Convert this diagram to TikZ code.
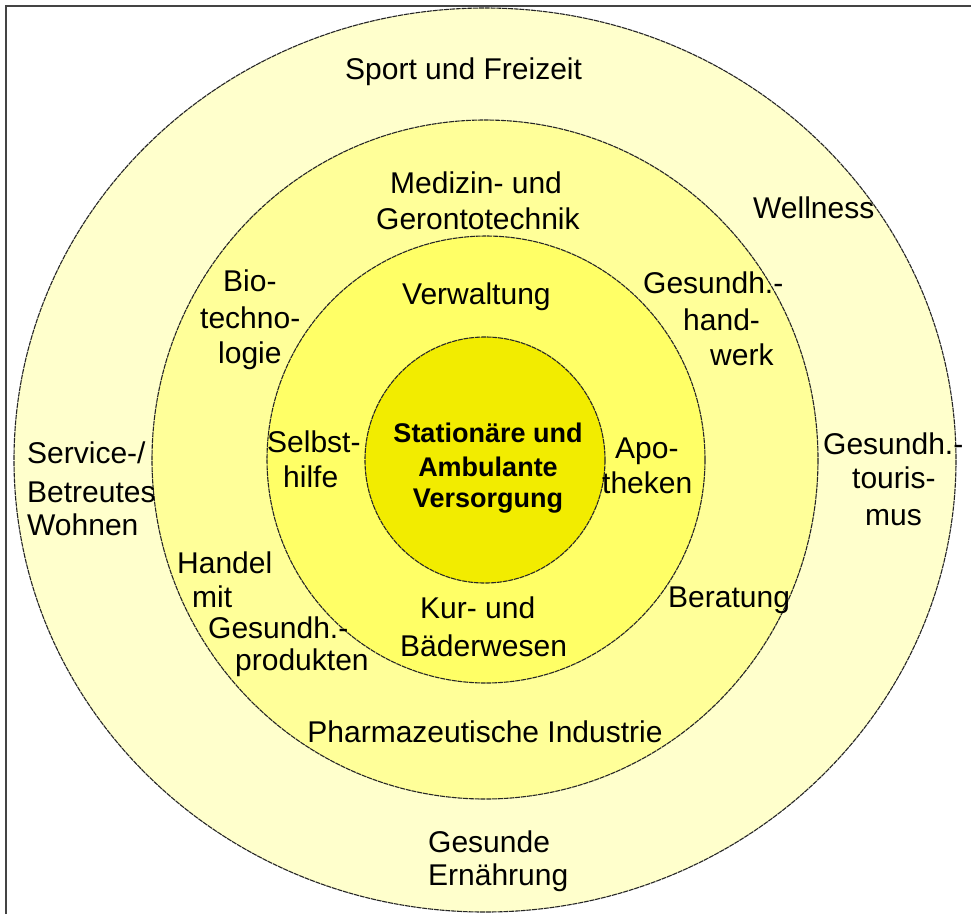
\documentclass[tikz,border=0pt]{standalone}
\usepackage{fontspec}
\setmainfont{Liberation Sans}
\definecolor{ringA}{HTML}{FFFFCC}
\definecolor{ringB}{HTML}{FFFF99}
\definecolor{ringC}{HTML}{FFFF66}
\definecolor{ringD}{HTML}{F2EC00}
\definecolor{frameC}{HTML}{444444}
\tikzset{
  ring/.style={draw=black!85, line width=1.1pt, dash pattern=on 5pt off 0.8pt},
  lbl/.style={inner sep=0pt, anchor=base west, font=\fontsize{30}{36}\selectfont},
  lblc/.style={inner sep=0pt, anchor=base, font=\fontsize{30}{36}\selectfont},
  core/.style={inner sep=0pt, anchor=base, font=\fontsize{27}{33}\selectfont\bfseries}
}
\begin{document}
\begin{tikzpicture}[x=1pt,y=-1pt]
\useasboundingbox (0,0) rectangle (971,914);
\fill[white] (0,0) rectangle (971,914);
\begin{scope}
\clip (0,0) rectangle (971,914);
\draw[frameC, line width=2pt] (5.5,914) -- (5.5,6) -- (971,6);
\draw[ring, fill=ringA] (485,460) ellipse [x radius=471, y radius=452];
\draw[ring, fill=ringB] (485,459.5) ellipse [x radius=333, y radius=339.5];
\draw[ring, fill=ringC] (486,459.5) ellipse [x radius=219, y radius=223.5];
\draw[ring, fill=ringD] (485,460) ellipse [x radius=120, y radius=123];
\end{scope}
% outer ring
\node[lbl] (sport) at (345,79) {Sport und Freizeit};
\node[lbl] (well) at (753,218) {Wellness};
\node[lbl] (serv1) at (27,463) {Service-/};
\node[lbl] (serv2) at (27,502) {Betreutes};
\node[lbl] (serv3) at (27,535) {Wohnen};
\node[lbl] (tour1) at (823,454) {Gesundh.-};
\node[lbl] (tour2) at (852,488) {touris-};
\node[lbl] (tour3) at (865,525) {mus};
\node[lbl] (ern1) at (428,852) {Gesunde};
\node[lbl] (ern2) at (428,885) {Ernährung};
% second ring
\node[lbl] (med1) at (390,193) {Medizin- und};
\node[lbl] (med2) at (376,229) {Gerontotechnik};
\node[lbl] (bio1) at (223,291) {Bio-};
\node[lbl] (bio2) at (200,328) {techno-};
\node[lbl] (bio3) at (218,363) {logie};
\node[lbl] (hw1) at (643,293) {Gesundh.-};
\node[lbl] (hw2) at (683,330) {hand-};
\node[lbl] (hw3) at (710,365) {werk};
\node[lbl] (han1) at (177,573) {Handel};
\node[lbl] (han2) at (192,607) {mit};
\node[lbl] (han3) at (208,638) {Gesundh.-};
\node[lbl] (han4) at (235,670) {produkten};
\node[lbl] (ber) at (668,607) {Beratung};
\node[lblc] (pharma) at (485,742) {Pharmazeutische Industrie};
% third ring
\node[lbl] (verw) at (402,304) {Verwaltung};
\node[lbl] (selb1) at (267,452) {Selbst-};
\node[lbl] (selb2) at (283,487) {hilfe};
\node[lbl] (apo1) at (615,458) {Apo-};
\node[lbl] (apo2) at (602,493) {theken};
\node[lbl] (kur1) at (420,618) {Kur- und};
\node[lbl] (kur2) at (400,656) {Bäderwesen};
% core
\node[core] (c1) at (488,442) {Stationäre und};
\node[core] (c2) at (488,476) {Ambulante};
\node[core] (c3) at (488,507) {Versorgung};
\end{tikzpicture}
\end{document}
